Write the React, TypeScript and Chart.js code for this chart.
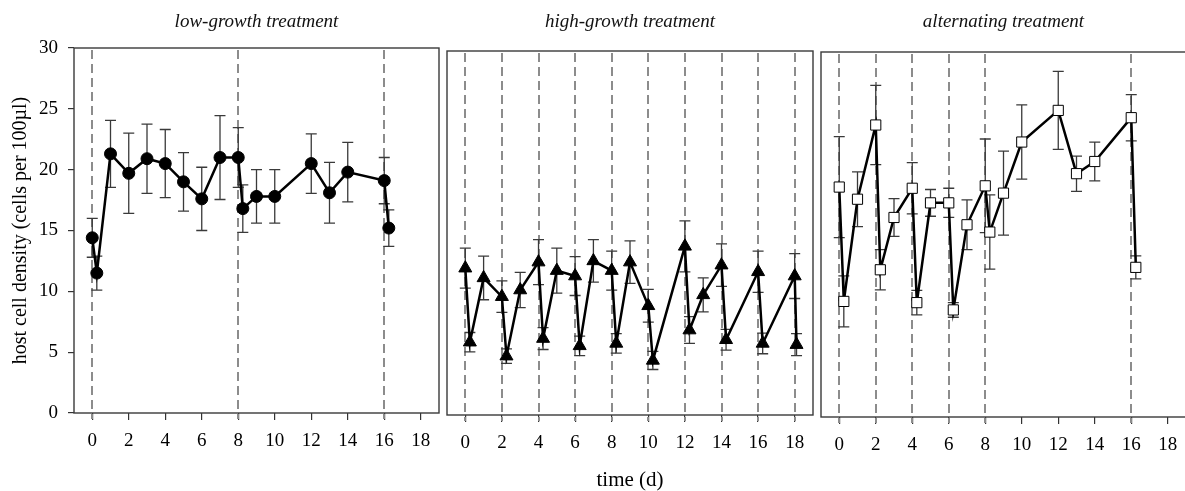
import React, { useEffect, useRef } from 'react';
import { Chart, registerables } from 'chart.js';

Chart.register(...registerables);

const FONT = "'Liberation Serif', 'Times New Roman', Times, serif";

// ---- data (days, mean host cell density, error) ----
const lowTimes = [0, 0.25, 1, 2, 3, 4, 5, 6, 7, 8, 8.25, 9, 10, 12, 13, 14, 16, 16.25];
const lowMeans = [14.4, 11.5, 21.3, 19.7, 20.9, 20.5, 19.0, 17.6, 21.0, 21.0, 16.8, 17.8, 17.8, 20.5, 18.1, 19.8, 19.1, 15.2];
const lowErrors = [1.6, 1.4, 2.75, 3.3, 2.85, 2.8, 2.4, 2.6, 3.45, 2.45, 1.95, 2.2, 2.2, 2.45, 2.5, 2.45, 1.9, 1.5];
const lowTransfers = [0, 8, 16];

const highTimes = [0, 0.25, 1, 2, 2.25, 3, 4, 4.25, 5, 6, 6.25, 7, 8, 8.25, 9, 10, 10.25, 12, 12.25, 13, 14, 14.25, 16, 16.25, 18, 18.1];
const highMeans = [12.1, 6.0, 11.3, 9.75, 4.85, 10.3, 12.6, 6.3, 11.9, 11.45, 5.7, 12.7, 11.9, 5.9, 12.6, 9.0, 4.5, 13.9, 7.0, 9.9, 12.35, 6.2, 11.8, 5.9, 11.45, 5.8];
const highErrors = [1.65, 0.8, 1.8, 1.3, 0.6, 1.45, 1.85, 0.9, 1.85, 1.6, 0.8, 1.75, 1.6, 0.8, 1.75, 1.35, 0.75, 2.1, 1.1, 1.4, 1.75, 0.85, 1.7, 0.85, 1.85, 0.9];
const highTransfers = [0, 2, 4, 6, 8, 10, 12, 14, 16, 18];

const altTimes = [0, 0.25, 1, 2, 2.25, 3, 4, 4.25, 5, 6, 6.25, 7, 8, 8.25, 9, 10, 12, 13, 14, 16, 16.25];
const altMeans = [18.9, 9.5, 17.9, 24.0, 12.1, 16.4, 18.8, 9.4, 17.6, 17.6, 8.8, 15.8, 19.0, 15.2, 18.4, 22.6, 25.2, 20.0, 21.0, 24.6, 12.3];
const altErrors = [4.15, 2.1, 2.25, 3.25, 1.65, 1.55, 2.1, 1.0, 1.1, 1.2, 0.6, 2.05, 3.85, 3.05, 3.45, 3.05, 3.2, 1.45, 1.6, 1.9, 0.95];
const altTransfers = [0, 2, 4, 6, 8, 16];

const xTickValues = [0, 2, 4, 6, 8, 10, 12, 14, 16, 18];
const yTickValues = [0, 5, 10, 15, 20, 25, 30];

const panelTitles = ['low-growth treatment', 'high-growth treatment', 'alternating treatment'];
const yAxisTitle = 'host cell density (cells per 100\u00b5l)';
const xAxisTitle = 'time (d)';

type Panel = {
  title: string;
  times: number[];
  means: number[];
  errors: number[];
  transfers: number[];
  pointStyle: any;
  pointRadius: number;
  pointFill: string;
  left: number;
  width: number;
  padL: number;
  padR: number;
  areaTop: number;
  areaBottom: number;
  showY: boolean;
  showXTitle: boolean;
};

const H = 491;

const panels: Panel[] = [
  {
    title: panelTitles[0], times: lowTimes, means: lowMeans, errors: lowErrors, transfers: lowTransfers,
    pointStyle: 'circle', pointRadius: 6, pointFill: '#000',
    left: 0, width: 441, padL: 0, padR: 2, areaTop: 48, areaBottom: 413, showY: true, showXTitle: false,
  },
  {
    title: panelTitles[1], times: highTimes, means: highMeans, errors: highErrors, transfers: highTransfers,
    pointStyle: 'triangle', pointRadius: 7.5, pointFill: '#000',
    left: 441, width: 378, padL: 6, padR: 6, areaTop: 51, areaBottom: 415, showY: false, showXTitle: true,
  },
  {
    title: panelTitles[2], times: altTimes, means: altMeans, errors: altErrors, transfers: altTransfers,
    pointStyle: 'rect', pointRadius: 7.2, pointFill: '#fff',
    left: 819, width: 368, padL: 2, padR: 1, areaTop: 52, areaBottom: 417, showY: false, showXTitle: false,
  },
];

function makeDecor(p: Panel) {
  return {
    id: 'decor',
    beforeDatasetsDraw(chart: any) {
      const { ctx, chartArea: a, scales } = chart;
      const x = scales.x;
      const y = scales.y;
      ctx.save();
      // transfer (dashed) lines
      ctx.strokeStyle = '#8c8c8c';
      ctx.lineWidth = 2;
      ctx.setLineDash([9, 5]);
      for (const t of p.transfers) {
        const px = Math.round(x.getPixelForValue(t));
        ctx.beginPath();
        ctx.moveTo(px, a.top + 2);
        ctx.lineTo(px, a.bottom + 6);
        ctx.stroke();
      }
      ctx.setLineDash([]);
      // frame
      ctx.strokeStyle = '#3a3a3a';
      ctx.lineWidth = 1.4;
      ctx.strokeRect(a.left, a.top, a.right - a.left, a.bottom - a.top);
      // error bars
      ctx.strokeStyle = '#3a3a3a';
      ctx.lineWidth = 1.3;
      const cap = 5.5;
      p.times.forEach((t, i) => {
        const px = x.getPixelForValue(t);
        const hi = y.getPixelForValue(p.means[i] + p.errors[i]);
        const lo = y.getPixelForValue(p.means[i] - p.errors[i]);
        ctx.beginPath();
        ctx.moveTo(px, hi);
        ctx.lineTo(px, lo);
        ctx.moveTo(px - cap, hi);
        ctx.lineTo(px + cap, hi);
        ctx.moveTo(px - cap, lo);
        ctx.lineTo(px + cap, lo);
        ctx.stroke();
      });
      ctx.restore();
    },
  };
}

function PanelChart({ p }: { p: Panel }) {
  const ref = useRef<HTMLCanvasElement | null>(null);
  useEffect(() => {
    if (!ref.current) return;
    const titleFont = 19;
    const titleLH = titleFont * 1.2;
    const titlePadTop = 22 - titleLH / 2;
    const titlePadBottom = p.areaTop - titlePadTop - titleLH;
    const xAxisHeight = H - p.areaBottom;
    const chart = new Chart(ref.current, {
      type: 'line',
      data: {
        datasets: [
          {
            data: p.times.map((t, i) => ({ x: t, y: p.means[i] })),
            borderColor: '#000',
            borderWidth: 2.5,
            tension: 0,
            pointStyle: p.pointStyle,
            pointRadius: p.pointRadius,
            pointBackgroundColor: p.pointFill,
            pointBorderColor: '#000',
            pointBorderWidth: 1,
            clip: false as any,
          },
        ],
      },
      options: {
        responsive: false,
        animation: false,
        devicePixelRatio: 1,
        layout: { autoPadding: false, padding: { left: p.padL, right: p.padR, top: 0, bottom: 0 } },
        plugins: {
          legend: { display: false },
          tooltip: { enabled: false },
          title: {
            display: true,
            text: p.title,
            fullSize: false,
            color: '#111',
            font: { family: FONT, size: titleFont, style: 'italic', weight: 'normal' as any, lineHeight: 1.2 },
            padding: { top: titlePadTop, bottom: titlePadBottom },
          },
        },
        scales: {
          x: {
            type: 'linear',
            min: -1,
            max: 19,
            afterBuildTicks: (s: any) => {
              s.ticks = xTickValues.map((v) => ({ value: v }));
            },
            afterFit: (s: any) => {
              s.height = xAxisHeight;
              s.paddingLeft = 0;
              s.paddingRight = 0;
            },
            border: { display: false },
            grid: { drawOnChartArea: false, drawTicks: true, tickLength: 7, color: '#333', lineWidth: 1.2 },
            ticks: {
              color: '#000',
              padding: 10,
              autoSkip: false,
              maxRotation: 0,
              font: { family: FONT, size: 19, lineHeight: 1.2 },
            },
            title: {
              display: p.showXTitle,
              text: xAxisTitle,
              color: '#000',
              padding: { top: 0, bottom: 0 },
              font: { family: FONT, size: 21, lineHeight: 1 },
            },
          },
          y: {
            display: p.showY,
            min: 0,
            max: 30,
            afterBuildTicks: (s: any) => {
              s.ticks = yTickValues.map((v) => ({ value: v }));
            },
            afterFit: (s: any) => {
              if (p.showY) s.width = 74;
              s.paddingTop = 0;
              s.paddingBottom = 0;
            },
            border: { display: false },
            grid: { drawOnChartArea: false, drawTicks: true, tickLength: 6, color: '#333', lineWidth: 1.2 },
            ticks: {
              color: '#000',
              padding: 10,
              font: { family: FONT, size: 19, lineHeight: 1.2 },
            },
            title: {
              display: p.showY,
              text: yAxisTitle,
              color: '#000',
              padding: { top: 9, bottom: 0 },
              font: { family: FONT, size: 20, lineHeight: 1.2 },
            },
          },
        },
      },
      plugins: [makeDecor(p)],
    });
    return () => chart.destroy();
  }, [p]);
  return (
    <div style={{ position: 'absolute', left: p.left, top: 0, width: p.width, height: H }}>
      <canvas ref={ref} width={p.width} height={H} style={{ display: 'block', width: p.width, height: H }} />
    </div>
  );
}

export default function App() {
  return (
    <div
      style={{
        position: 'absolute',
        left: 0,
        top: 0,
        width: 1185,
        height: H,
        overflow: 'hidden',
        background: '#fff',
      }}
    >
      {panels.map((p, i) => (
        <PanelChart key={i} p={p} />
      ))}
    </div>
  );
}
